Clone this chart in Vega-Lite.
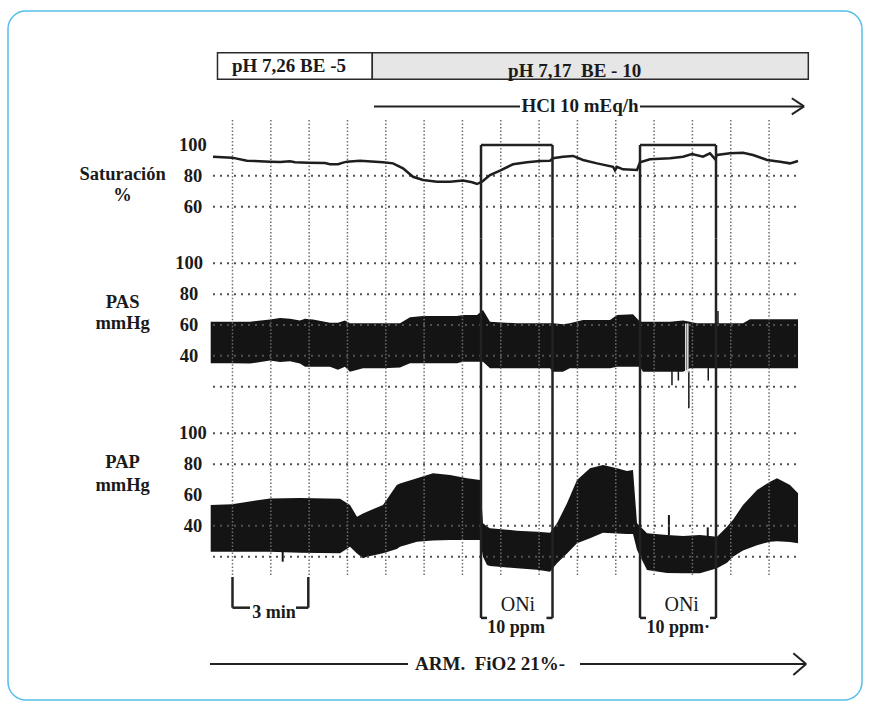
{
"$schema": "https://vega.github.io/schema/vega-lite/v6.json",
"width": 870, "height": 708,
"autosize": {"type": "fit", "contains": "padding"},
"padding": {"left": 8, "top": 11, "right": 8, "bottom": 8},
"background": "white",
"config": {"font": "Times New Roman, Liberation Serif, serif", "view": {"stroke": "#56bfe8", "strokeWidth": 1.5, "cornerRadius": 18}, "text": {"font": "Times New Roman, Liberation Serif, serif", "fontWeight": "bold", "fontSize": 18.5, "color": "#1a1a1a", "align": "center", "baseline": "middle"}},
"resolve": {"scale": {"y": "independent"}},
"datasets": {
"sat": [{"t":-0.763,"v":92.4},{"t":-0.02,"v":91.8},{"t":0.567,"v":89.8},{"t":1.468,"v":89.2},{"t":1.87,"v":88.9},{"t":2.25,"v":89.4},{"t":2.45,"v":88.8},{"t":2.955,"v":88.5},{"t":3.62,"v":88.3},{"t":3.816,"v":87.5},{"t":4.129,"v":87.5},{"t":4.33,"v":88.6},{"t":4.481,"v":89.2},{"t":4.99,"v":89.8},{"t":5.89,"v":88.8},{"t":6.282,"v":88.1},{"t":6.673,"v":84.9},{"t":7.065,"v":79.4},{"t":7.456,"v":77.3},{"t":8.004,"v":76.2},{"t":8.513,"v":76.2},{"t":9.022,"v":76.9},{"t":9.38,"v":75.8},{"t":9.57,"v":74.7},{"t":9.765,"v":76.2},{"t":10.078,"v":80.5},{"t":10.47,"v":83.4},{"t":10.979,"v":87.5},{"t":11.527,"v":88.8},{"t":12.036,"v":89.6},{"t":12.427,"v":89.8},{"t":12.544,"v":91.4},{"t":12.936,"v":92.4},{"t":13.327,"v":92.9},{"t":13.718,"v":90.3},{"t":14.266,"v":88.1},{"t":14.892,"v":85.9},{"t":14.97,"v":83.5},{"t":15.049,"v":85.9},{"t":15.284,"v":84.2},{"t":15.832,"v":83.8},{"t":15.949,"v":88.8},{"t":16.34,"v":90.7},{"t":17.123,"v":91.4},{"t":17.632,"v":92.4},{"t":17.984,"v":94.2},{"t":18.414,"v":92.4},{"t":18.688,"v":94.6},{"t":18.884,"v":90.9},{"t":18.962,"v":93.5},{"t":19.471,"v":94.6},{"t":19.98,"v":95.0},{"t":20.372,"v":93.5},{"t":20.92,"v":90.3},{"t":21.429,"v":89.2},{"t":21.82,"v":88.1},{"t":22.133,"v":89.6}],
"pas": [{"t":-0.853,"lo":35.2,"hi":62.1},{"t":-0.02,"lo":35.2,"hi":62.1},{"t":0.685,"lo":35.0,"hi":62.1},{"t":1.468,"lo":37.0,"hi":63.5},{"t":1.86,"lo":36.0,"hi":64.5},{"t":2.25,"lo":36.5,"hi":64.0},{"t":2.64,"lo":35.0,"hi":63.0},{"t":2.84,"lo":33.0,"hi":64.0},{"t":3.151,"lo":33.0,"hi":63.5},{"t":3.816,"lo":33.0,"hi":61.5},{"t":4.129,"lo":31.0,"hi":61.5},{"t":4.4,"lo":33.0,"hi":63.0},{"t":4.599,"lo":29.7,"hi":61.1},{"t":5.108,"lo":31.9,"hi":61.1},{"t":5.89,"lo":31.9,"hi":61.1},{"t":6.556,"lo":32.5,"hi":61.1},{"t":6.947,"lo":35.2,"hi":65.0},{"t":7.456,"lo":35.2,"hi":65.8},{"t":8.787,"lo":35.2,"hi":65.8},{"t":9.022,"lo":36.2,"hi":66.5},{"t":9.57,"lo":36.2,"hi":66.5},{"t":9.804,"lo":36.2,"hi":69.7},{"t":10.078,"lo":31.9,"hi":62.1},{"t":11.135,"lo":31.9,"hi":61.1},{"t":12.427,"lo":31.9,"hi":61.1},{"t":12.544,"lo":29.7,"hi":61.1},{"t":12.936,"lo":29.7,"hi":60.5},{"t":13.2,"lo":31.9,"hi":61.1},{"t":13.718,"lo":31.9,"hi":63.3},{"t":14.775,"lo":31.9,"hi":63.3},{"t":15.049,"lo":33.0,"hi":66.5},{"t":15.675,"lo":33.0,"hi":67.0},{"t":15.949,"lo":33.0,"hi":62.1},{"t":16.066,"lo":29.7,"hi":62.1},{"t":17.123,"lo":29.7,"hi":62.1},{"t":17.632,"lo":29.7,"hi":63.0},{"t":17.9,"lo":31.9,"hi":62.1},{"t":18.179,"lo":31.9,"hi":61.1},{"t":19.98,"lo":31.9,"hi":61.1},{"t":20.254,"lo":31.9,"hi":63.7},{"t":22.133,"lo":31.9,"hi":63.7}],
"pap": [{"t":-0.853,"lo":23.2,"hi":53.5},{"t":-0.02,"lo":23.2,"hi":54.0},{"t":1.468,"lo":23.2,"hi":57.8},{"t":2.64,"lo":22.5,"hi":58.0},{"t":4.21,"lo":22.2,"hi":57.5},{"t":4.599,"lo":26.5,"hi":53.5},{"t":4.873,"lo":22.0,"hi":45.9},{"t":5.108,"lo":19.0,"hi":48.0},{"t":5.264,"lo":20.0,"hi":49.2},{"t":5.89,"lo":22.2,"hi":53.5},{"t":6.43,"lo":25.0,"hi":66.5},{"t":6.556,"lo":26.5,"hi":67.5},{"t":7.221,"lo":29.7,"hi":70.8},{"t":7.848,"lo":30.5,"hi":74.1},{"t":8.513,"lo":30.8,"hi":73.0},{"t":9.178,"lo":30.8,"hi":70.8},{"t":9.687,"lo":30.8,"hi":69.7},{"t":9.804,"lo":20.0,"hi":41.7},{"t":9.961,"lo":14.6,"hi":39.5},{"t":10.078,"lo":14.0,"hi":38.4},{"t":11.135,"lo":12.5,"hi":36.9},{"t":11.918,"lo":11.5,"hi":36.2},{"t":12.427,"lo":10.3,"hi":35.6},{"t":12.701,"lo":15.7,"hi":41.7},{"t":13.092,"lo":22.0,"hi":54.6},{"t":13.483,"lo":28.7,"hi":69.7},{"t":13.992,"lo":32.0,"hi":77.3},{"t":14.501,"lo":35.6,"hi":79.5},{"t":15.049,"lo":35.0,"hi":77.3},{"t":15.44,"lo":34.7,"hi":75.5},{"t":15.675,"lo":34.7,"hi":76.2},{"t":15.832,"lo":24.3,"hi":41.7},{"t":16.223,"lo":11.4,"hi":35.2},{"t":17.005,"lo":9.5,"hi":34.1},{"t":17.632,"lo":9.2,"hi":33.4},{"t":18.297,"lo":9.2,"hi":34.0},{"t":18.962,"lo":12.5,"hi":33.0},{"t":19.354,"lo":16.0,"hi":39.4},{"t":19.589,"lo":20.0,"hi":44.0},{"t":19.98,"lo":24.0,"hi":53.5},{"t":20.528,"lo":27.5,"hi":63.2},{"t":21.037,"lo":29.7,"hi":68.6},{"t":21.311,"lo":30.0,"hi":70.8},{"t":21.82,"lo":29.5,"hi":66.5},{"t":22.133,"lo":28.7,"hi":61.1}],
"grid": [{"t":0},{"t":1.5},{"t":3},{"t":4.5},{"t":6},{"t":7.5},{"t":9},{"t":10.5},{"t":12},{"t":13.5},{"t":15},{"t":16.5},{"t":18},{"t":19.5},{"t":21}],
"oniEdges": [{"t":9.726},{"t":12.524},{"t":15.949},{"t":18.923}],
"oni": [{"start":9.726,"end":12.524},{"start":15.949,"end":18.923}],
"oniTicks": [{"a":9.726,"b":9.96},{"a":12.29,"b":12.524},{"a":15.949,"b":16.184},{"a":18.688,"b":18.923}],
"oniLabels": [{"t":11.17,"v":-11.3,"label":"ONi"},{"t":17.58,"v":-11.3,"label":"ONi"}],
"oniDose": [{"t":11.1,"v":-26.2,"label":"10 ppm"},{"t":17.45,"v":-26.2,"label":"10 ppm·"}]
},
"layer": [
{"data":{"name":"pas"},"mark":{"type":"area","color":"#141414"},
 "encoding":{"x":{"field":"t","type":"quantitative","scale":{"domain":[-8.786,24.637],"nice":false,"zero":false},"axis":null},
 "y":{"field":"hi","type":"quantitative","scale":{"domain":[-183.11,263.57],"nice":false,"zero":false},"axis":null},"y2":{"field":"lo"}}},
{"data":{"values":[{"t":17.2,"lo":21,"hi":30},{"t":17.45,"lo":24,"hi":30},{"t":17.86,"lo":6,"hi":30},{"t":18.62,"lo":24,"hi":32},{"t":19.0,"lo":60,"hi":69}]},"mark":{"type":"rule","color":"#141414","strokeWidth":1.5},
 "encoding":{"x":{"field":"t","type":"quantitative","scale":{"domain":[-8.786,24.637],"nice":false,"zero":false},"axis":null},
 "y":{"field":"hi","type":"quantitative","scale":{"domain":[-183.11,263.57],"nice":false,"zero":false},"axis":null},"y2":{"field":"lo"}}},
{"data":{"values":[{"t":17.74},{"t":17.82}]},"mark":{"type":"rule","color":"#e0e0e0","strokeWidth":1.5},
 "encoding":{"x":{"field":"t","type":"quantitative","scale":{"domain":[-8.786,24.637],"nice":false,"zero":false},"axis":null},
 "y":{"datum":61,"type":"quantitative","scale":{"domain":[-183.11,263.57],"nice":false,"zero":false},"axis":null},"y2":{"datum":29}}},
{"data":{"name":"pap"},"mark":{"type":"area","color":"#141414"},
 "encoding":{"x":{"field":"t","type":"quantitative","scale":{"domain":[-8.786,24.637],"nice":false,"zero":false},"axis":null},
 "y":{"field":"hi","type":"quantitative","scale":{"domain":[-72.9,373.78],"nice":false,"zero":false},"axis":null},"y2":{"field":"lo"}}},
{"data":{"values":[{"t":1.965,"lo":16.8,"hi":25},{"t":17.08,"lo":34,"hi":47},{"t":18.6,"lo":33,"hi":39}]},"mark":{"type":"rule","color":"#141414","strokeWidth":2},
 "encoding":{"x":{"field":"t","type":"quantitative","scale":{"domain":[-8.786,24.637],"nice":false,"zero":false},"axis":null},
 "y":{"field":"hi","type":"quantitative","scale":{"domain":[-72.9,373.78],"nice":false,"zero":false},"axis":null},"y2":{"field":"lo"}}},
{"data":{"name":"grid"},"mark":{"type":"rule","color":"#6e6e6e","strokeWidth":1.5,"strokeDash":[1.5,2]},
 "encoding":{"x":{"field":"t","type":"quantitative","scale":{"domain":[-8.786,24.637],"nice":false,"zero":false},"axis":null},
 "y":{"datum":116.2,"type":"quantitative","scale":{"domain":[-259.81,186.87],"nice":false,"zero":false},"axis":null},"y2":{"datum":39.5}}},
{"data":{"name":"grid"},"mark":{"type":"rule","color":"#6e6e6e","strokeWidth":1.5,"strokeDash":[1.5,2]},
 "encoding":{"x":{"field":"t","type":"quantitative","scale":{"domain":[-8.786,24.637],"nice":false,"zero":false},"axis":null},
 "y":{"datum":116.2,"type":"quantitative","scale":{"domain":[-183.11,263.57],"nice":false,"zero":false},"axis":null},"y2":{"datum":5.5}}},
{"data":{"name":"grid"},"mark":{"type":"rule","color":"#6e6e6e","strokeWidth":1.5,"strokeDash":[1.5,2]},
 "encoding":{"x":{"field":"t","type":"quantitative","scale":{"domain":[-8.786,24.637],"nice":false,"zero":false},"axis":null},
 "y":{"datum":115.8,"type":"quantitative","scale":{"domain":[-72.9,373.78],"nice":false,"zero":false},"axis":null},"y2":{"datum":8.1}}},
{"data":{"values":[{"v":80},{"v":60}]},"mark":{"type":"rule","color":"#505050","strokeWidth":2,"strokeDash":[2,5]},
 "encoding":{"x":{"datum":-0.763,"type":"quantitative","scale":{"domain":[-8.786,24.637],"nice":false,"zero":false},"axis":null},"x2":{"datum":22.21},
 "y":{"field":"v","type":"quantitative","scale":{"domain":[-259.81,186.87],"nice":false,"zero":false},"axis":null}}},
{"data":{"values":[{"v":100},{"v":80},{"v":60},{"v":40},{"v":20}]},"mark":{"type":"rule","color":"#505050","strokeWidth":2,"strokeDash":[2,5]},
 "encoding":{"x":{"datum":-0.763,"type":"quantitative","scale":{"domain":[-8.786,24.637],"nice":false,"zero":false},"axis":null},"x2":{"datum":22.21},
 "y":{"field":"v","type":"quantitative","scale":{"domain":[-183.11,263.57],"nice":false,"zero":false},"axis":null}}},
{"data":{"values":[{"v":100},{"v":80},{"v":40},{"v":20}]},"mark":{"type":"rule","color":"#505050","strokeWidth":2,"strokeDash":[2,5]},
 "encoding":{"x":{"datum":-0.763,"type":"quantitative","scale":{"domain":[-8.786,24.637],"nice":false,"zero":false},"axis":null},"x2":{"datum":22.21},
 "y":{"field":"v","type":"quantitative","scale":{"domain":[-72.9,373.78],"nice":false,"zero":false},"axis":null}}},
{"mark":{"type":"rule","color":"#333333","strokeWidth":2},
 "encoding":{"x":{"datum":-0.763,"type":"quantitative","scale":{"domain":[-8.786,24.637],"nice":false,"zero":false},"axis":null},"x2":{"datum":22.21},
 "y":{"datum":100,"type":"quantitative","scale":{"domain":[-259.81,186.87],"nice":false,"zero":false},"axis":null}}},
{"mark":{"type":"rule","color":"#222222","strokeWidth":3},
 "encoding":{"x":{"datum":-2.133,"type":"quantitative","scale":{"domain":[-8.786,24.637],"nice":false,"zero":false},"axis":null},"x2":{"datum":22.48},
 "y":{"datum":39.5,"type":"quantitative","scale":{"domain":[-259.81,186.87],"nice":false,"zero":false},"axis":null}}},
{"mark":{"type":"rule","color":"#222222","strokeWidth":3},
 "encoding":{"x":{"datum":-2.133,"type":"quantitative","scale":{"domain":[-8.786,24.637],"nice":false,"zero":false},"axis":null},"x2":{"datum":22.48},
 "y":{"datum":5.5,"type":"quantitative","scale":{"domain":[-183.11,263.57],"nice":false,"zero":false},"axis":null}}},
{"mark":{"type":"rule","color":"#333333","strokeWidth":2},
 "encoding":{"x":{"datum":-0.959,"type":"quantitative","scale":{"domain":[-8.786,24.637],"nice":false,"zero":false},"axis":null},"x2":{"datum":22.33},
 "y":{"datum":60,"type":"quantitative","scale":{"domain":[-72.9,373.78],"nice":false,"zero":false},"axis":null}}},
{"mark":{"type":"rule","color":"#333333","strokeWidth":2},
 "encoding":{"x":{"datum":-1.076,"type":"quantitative","scale":{"domain":[-8.786,24.637],"nice":false,"zero":false},"axis":null},"x2":{"datum":-0.802},
 "y":{"datum":60,"type":"quantitative","scale":{"domain":[-183.11,263.57],"nice":false,"zero":false},"axis":null}}},
{"mark":{"type":"rule","color":"#333333","strokeWidth":2},
 "encoding":{"x":{"datum":-1.049,"type":"quantitative","scale":{"domain":[-8.786,24.637],"nice":false,"zero":false},"axis":null},
 "y":{"datum":54.2,"type":"quantitative","scale":{"domain":[-183.11,263.57],"nice":false,"zero":false},"axis":null},"y2":{"datum":30.8}}},
{"data":{"name":"sat"},"mark":{"type":"line","color":"#1e1e1e","strokeWidth":2.5},
 "encoding":{"x":{"field":"t","type":"quantitative","scale":{"domain":[-8.786,24.637],"nice":false,"zero":false},"axis":null},
 "y":{"field":"v","type":"quantitative","scale":{"domain":[-259.81,186.87],"nice":false,"zero":false},"axis":null}}},
{"data":{"name":"oniEdges"},"mark":{"type":"rule","color":"#222222","strokeWidth":2.5},
 "encoding":{"x":{"field":"t","type":"quantitative","scale":{"domain":[-8.786,24.637],"nice":false,"zero":false},"axis":null},
 "y":{"datum":100,"type":"quantitative","scale":{"domain":[-259.81,186.87],"nice":false,"zero":false},"axis":null},"y2":{"datum":39.5}}},
{"data":{"name":"oniEdges"},"mark":{"type":"rule","color":"#222222","strokeWidth":2.5},
 "encoding":{"x":{"field":"t","type":"quantitative","scale":{"domain":[-8.786,24.637],"nice":false,"zero":false},"axis":null},
 "y":{"datum":116.2,"type":"quantitative","scale":{"domain":[-183.11,263.57],"nice":false,"zero":false},"axis":null},"y2":{"datum":5.5}}},
{"data":{"name":"oniEdges"},"mark":{"type":"rule","color":"#222222","strokeWidth":2.5},
 "encoding":{"x":{"field":"t","type":"quantitative","scale":{"domain":[-8.786,24.637],"nice":false,"zero":false},"axis":null},
 "y":{"datum":115.8,"type":"quantitative","scale":{"domain":[-72.9,373.78],"nice":false,"zero":false},"axis":null},"y2":{"datum":-19.7}}},
{"data":{"name":"oni"},"mark":{"type":"rule","color":"#222222","strokeWidth":2.5},
 "encoding":{"x":{"field":"start","type":"quantitative","scale":{"domain":[-8.786,24.637],"nice":false,"zero":false},"axis":null},"x2":{"field":"end"},
 "y":{"datum":100,"type":"quantitative","scale":{"domain":[-259.81,186.87],"nice":false,"zero":false},"axis":null}}},
{"data":{"name":"oniTicks"},"mark":{"type":"rule","color":"#222222","strokeWidth":2.5},
 "encoding":{"x":{"field":"a","type":"quantitative","scale":{"domain":[-8.786,24.637],"nice":false,"zero":false},"axis":null},"x2":{"field":"b"},
 "y":{"datum":-19.7,"type":"quantitative","scale":{"domain":[-72.9,373.78],"nice":false,"zero":false},"axis":null}}},
{"data":{"name":"oniLabels"},"mark":{"type":"text","fontWeight":"normal","fontSize":20},
 "encoding":{"x":{"field":"t","type":"quantitative","scale":{"domain":[-8.786,24.637],"nice":false,"zero":false},"axis":null},
 "y":{"field":"v","type":"quantitative","scale":{"domain":[-72.9,373.78],"nice":false,"zero":false},"axis":null},"text":{"field":"label"}}},
{"data":{"name":"oniDose"},"mark":{"type":"text","fontSize":18},
 "encoding":{"x":{"field":"t","type":"quantitative","scale":{"domain":[-8.786,24.637],"nice":false,"zero":false},"axis":null},
 "y":{"field":"v","type":"quantitative","scale":{"domain":[-72.9,373.78],"nice":false,"zero":false},"axis":null},"text":{"field":"label"}}},
{"data":{"values":[{"t":0},{"t":2.967}]},"mark":{"type":"rule","color":"#222222","strokeWidth":2.5},
 "encoding":{"x":{"field":"t","type":"quantitative","scale":{"domain":[-8.786,24.637],"nice":false,"zero":false},"axis":null},
 "y":{"datum":6.84,"type":"quantitative","scale":{"domain":[-72.9,373.78],"nice":false,"zero":false},"axis":null},"y2":{"datum":-13.06}}},
{"data":{"values":[{"a":0,"b":0.685},{"a":2.485,"b":2.967}]},"mark":{"type":"rule","color":"#222222","strokeWidth":2.5},
 "encoding":{"x":{"field":"a","type":"quantitative","scale":{"domain":[-8.786,24.637],"nice":false,"zero":false},"axis":null},"x2":{"field":"b"},
 "y":{"datum":-13.06,"type":"quantitative","scale":{"domain":[-72.9,373.78],"nice":false,"zero":false},"axis":null}}},
{"data":{"values":[{"t":1.62,"v":-16.7,"label":"3 min"}]},"mark":{"type":"text","fontSize":18},
 "encoding":{"x":{"field":"t","type":"quantitative","scale":{"domain":[-8.786,24.637],"nice":false,"zero":false},"axis":null},
 "y":{"field":"v","type":"quantitative","scale":{"domain":[-72.9,373.78],"nice":false,"zero":false},"axis":null},"text":{"field":"label"}}},
{"data":{"values":[{"a":-0.88,"b":6.87},{"a":13.6,"b":22.45}]},"mark":{"type":"rule","color":"#222222","strokeWidth":2},
 "encoding":{"x":{"field":"a","type":"quantitative","scale":{"domain":[-8.786,24.637],"nice":false,"zero":false},"axis":null},"x2":{"field":"b"},
 "y":{"datum":-49.6,"type":"quantitative","scale":{"domain":[-72.9,373.78],"nice":false,"zero":false},"axis":null}}},
{"data":{"values":[{"y0":-42.6},{"y0":-56.7}]},"mark":{"type":"rule","color":"#222222","strokeWidth":2},
 "encoding":{"x":{"datum":21.95,"type":"quantitative","scale":{"domain":[-8.786,24.637],"nice":false,"zero":false},"axis":null},"x2":{"datum":22.45},
 "y":{"field":"y0","type":"quantitative","scale":{"domain":[-72.9,373.78],"nice":false,"zero":false},"axis":null},"y2":{"datum":-49.6}}},
{"data":{"values":[{"t":10.08,"v":-49.6,"label":"ARM.\u00a0\u00a0FiO2 21%-"}]},"mark":{"type":"text","fontSize":19},
 "encoding":{"x":{"field":"t","type":"quantitative","scale":{"domain":[-8.786,24.637],"nice":false,"zero":false},"axis":null},
 "y":{"field":"v","type":"quantitative","scale":{"domain":[-72.9,373.78],"nice":false,"zero":false},"axis":null},"text":{"field":"label"}}},
{"data":{"values":[{"label":"pH 7,26 BE -5","start":-0.587,"end":5.471},{"label":"pH 7,17\u00a0\u00a0BE - 10","start":5.471,"end":22.536}]},"mark":{"type":"rect","stroke":"#2a2a2a","strokeWidth":1.5},
 "encoding":{"x":{"field":"start","type":"quantitative","scale":{"domain":[-8.786,24.637],"nice":false,"zero":false},"axis":null},"x2":{"field":"end"},
 "y":{"datum":159.8,"type":"quantitative","scale":{"domain":[-259.81,186.87],"nice":false,"zero":false},"axis":null},"y2":{"datum":142.6},
 "color":{"field":"label","type":"nominal","scale":{"domain":["pH 7,26 BE -5","pH 7,17\u00a0\u00a0BE - 10"],"range":["#ffffff","#e6e6e6"]},"legend":null}}},
{"data":{"values":[{"label":"pH 7,26 BE -5","t":2.211,"v":151.4},{"label":"pH 7,17\u00a0\u00a0BE - 10","t":13.39,"v":148.0}]},"mark":{"type":"text","fontSize":19},
 "encoding":{"x":{"field":"t","type":"quantitative","scale":{"domain":[-8.786,24.637],"nice":false,"zero":false},"axis":null},
 "y":{"field":"v","type":"quantitative","scale":{"domain":[-259.81,186.87],"nice":false,"zero":false},"axis":null},"text":{"field":"label"}}},
{"mark":{"type":"rule","color":"#222222","strokeWidth":2.5},
 "encoding":{"x":{"datum":5.538,"type":"quantitative","scale":{"domain":[-8.786,24.637],"nice":false,"zero":false},"axis":null},
 "y":{"datum":125,"type":"quantitative","scale":{"domain":[-259.81,186.87],"nice":false,"zero":false},"axis":null},"y2":{"datum":113}}},
{"data":{"values":[{"a":5.538,"b":11.252},{"a":15.949,"b":22.37}]},"mark":{"type":"rule","color":"#222222","strokeWidth":2},
 "encoding":{"x":{"field":"a","type":"quantitative","scale":{"domain":[-8.786,24.637],"nice":false,"zero":false},"axis":null},"x2":{"field":"b"},
 "y":{"datum":125,"type":"quantitative","scale":{"domain":[-259.81,186.87],"nice":false,"zero":false},"axis":null}}},
{"data":{"values":[{"y0":130.3},{"y0":119.9}]},"mark":{"type":"rule","color":"#222222","strokeWidth":2},
 "encoding":{"x":{"datum":21.89,"type":"quantitative","scale":{"domain":[-8.786,24.637],"nice":false,"zero":false},"axis":null},"x2":{"datum":22.37},
 "y":{"field":"y0","type":"quantitative","scale":{"domain":[-259.81,186.87],"nice":false,"zero":false},"axis":null},"y2":{"datum":125}}},
{"data":{"values":[{"t":13.6,"v":125.3,"label":"HCl 10 mEq/h"}]},"mark":{"type":"text","fontSize":19},
 "encoding":{"x":{"field":"t","type":"quantitative","scale":{"domain":[-8.786,24.637],"nice":false,"zero":false},"axis":null},
 "y":{"field":"v","type":"quantitative","scale":{"domain":[-259.81,186.87],"nice":false,"zero":false},"axis":null},"text":{"field":"label"}}},
{"data":{"values":[{"v":100},{"v":80},{"v":60}]},"mark":{"type":"text"},
 "encoding":{"x":{"datum":-1.546,"type":"quantitative","scale":{"domain":[-8.786,24.637],"nice":false,"zero":false},"axis":null},
 "y":{"field":"v","type":"quantitative","scale":{"domain":[-259.81,186.87],"nice":false,"zero":false},"axis":null},"text":{"field":"v"}}},
{"data":{"values":[{"v":100},{"v":80},{"v":60},{"v":40}]},"mark":{"type":"text"},
 "encoding":{"x":{"datum":-1.702,"type":"quantitative","scale":{"domain":[-8.786,24.637],"nice":false,"zero":false},"axis":null},
 "y":{"field":"v","type":"quantitative","scale":{"domain":[-183.11,263.57],"nice":false,"zero":false},"axis":null},"text":{"field":"v"}}},
{"data":{"values":[{"v":100},{"v":80},{"v":60},{"v":40}]},"mark":{"type":"text"},
 "encoding":{"x":{"datum":-1.546,"type":"quantitative","scale":{"domain":[-8.786,24.637],"nice":false,"zero":false},"axis":null},
 "y":{"field":"v","type":"quantitative","scale":{"domain":[-72.9,373.78],"nice":false,"zero":false},"axis":null},"text":{"field":"v"}}},
{"data":{"values":[{"label":"Saturación","v":81.0},{"label":"%","v":67.6}]},"mark":{"type":"text"},
 "encoding":{"x":{"datum":-4.3,"type":"quantitative","scale":{"domain":[-8.786,24.637],"nice":false,"zero":false},"axis":null},
 "y":{"field":"v","type":"quantitative","scale":{"domain":[-259.81,186.87],"nice":false,"zero":false},"axis":null},"text":{"field":"label"}}},
{"data":{"values":[{"label":"PAS","v":75.1},{"label":"mmHg","v":61.1}]},"mark":{"type":"text"},
 "encoding":{"x":{"datum":-4.3,"type":"quantitative","scale":{"domain":[-8.786,24.637],"nice":false,"zero":false},"axis":null},
 "y":{"field":"v","type":"quantitative","scale":{"domain":[-183.11,263.57],"nice":false,"zero":false},"axis":null},"text":{"field":"label"}}},
{"data":{"values":[{"label":"PAP","v":81.6},{"label":"mmHg","v":66.5}]},"mark":{"type":"text"},
 "encoding":{"x":{"datum":-4.3,"type":"quantitative","scale":{"domain":[-8.786,24.637],"nice":false,"zero":false},"axis":null},
 "y":{"field":"v","type":"quantitative","scale":{"domain":[-72.9,373.78],"nice":false,"zero":false},"axis":null},"text":{"field":"label"}}}
]
}
